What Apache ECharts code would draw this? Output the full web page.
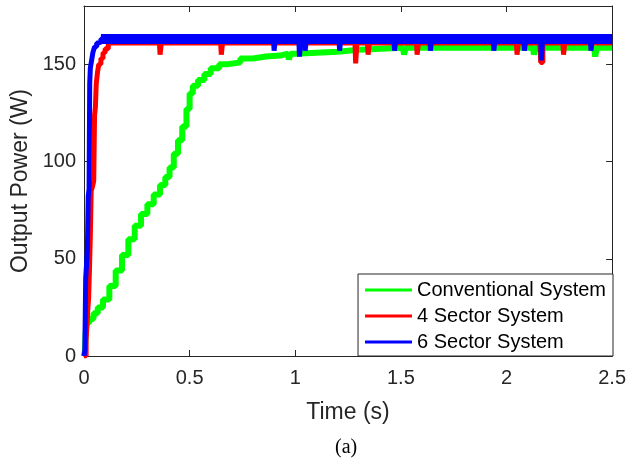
<!DOCTYPE html>
<html>
<head>
<meta charset="utf-8">
<script src="https://cdn.jsdelivr.net/npm/echarts@6/dist/echarts.min.js"></script>
<style>
  html, body { margin: 0; padding: 0; background: #fff; }
  #chart { width: 629px; height: 466px; }
</style>
</head>
<body>
<div id="chart"></div>
<script>
// values: time in s, power in W
const conventionalTime = [0, 0.004, 0.008, 0.012, 0.025, 0.045, 0.065, 0.09, 0.12, 0.15, 0.18, 0.21, 0.24, 0.27, 0.30, 0.33, 0.36, 0.385, 0.405, 0.425, 0.445, 0.465, 0.485, 0.50, 0.515, 0.54, 0.57, 0.60, 0.64, 0.68, 0.74, 0.80, 0.86, 0.93, 0.965, 0.97, 0.978, 1.0, 1.1, 1.2, 1.3, 1.51, 1.515, 1.523, 1.7, 1.9, 2.125, 2.13, 2.138, 2.3, 2.415, 2.42, 2.428, 2.5];
const conventionalPower = [0, 2, 12, 17, 19, 22, 25, 29, 36, 44, 52, 60, 67, 73, 78, 83, 88, 92, 97, 104, 111, 118, 127, 135, 139, 142, 145, 148, 150, 151, 153, 154, 154.5, 155.5, 155.5, 152.5, 155.5, 156, 156.5, 157.5, 158.5, 158.5, 155, 158.5, 158.5, 158.5, 158.5, 155, 158.5, 158.5, 158.5, 154, 158.5, 158.5];

const fourSectorTime = [0, 0.01, 0.018, 0.022, 0.026, 0.03, 0.034, 0.04, 0.046, 0.05, 0.054, 0.058, 0.064, 0.07, 0.08, 0.09, 0.1, 0.115,
  0.357, 0.36, 0.366, 0.647, 0.65, 0.656, 1.283, 1.286, 1.292, 1.342, 1.345, 1.351, 1.574, 1.577, 1.583,
  2.047, 2.05, 2.056, 2.158, 2.162, 2.172, 2.267, 2.27, 2.276, 2.5];
const fourSectorPower = [0, 8, 24, 30, 45, 62, 85, 87, 90, 124, 128, 140, 146, 150, 153, 156, 158, 161,
  161, 155, 161, 161, 155, 161, 161, 150.5, 161, 161, 155, 161, 161, 155, 161,
  161, 155, 161, 161, 151, 161, 161, 155, 161, 161];

const sixSectorTime = [0, 0.004, 0.008, 0.012, 0.016, 0.02, 0.024, 0.027, 0.03, 0.036, 0.042, 0.05, 0.06, 0.07, 0.08,
  0.897, 0.9, 0.906, 1.017, 1.02, 1.026, 1.044, 1.047, 1.053, 1.207, 1.21, 1.216, 1.467, 1.47, 1.476,
  1.637, 1.64, 1.646, 1.937, 1.94, 1.946, 2.082, 2.085, 2.091, 2.162, 2.165, 2.171, 2.397, 2.4, 2.406, 2.5];
const sixSectorPower = [0, 3, 40, 47, 55, 82, 86, 140, 148, 152, 156, 159, 161, 161.5, 163,
  163, 157, 163, 163, 154, 163, 163, 157, 163, 163, 157, 163, 163, 157, 163,
  163, 157, 163, 163, 157, 163, 163, 157, 163, 163, 152, 163, 163, 157, 163, 163];

// the steady-state ripple of the 6 sector trace shows as a wider band
const sixSectorBandTime = [0.08, 2.5];
const sixSectorBandPower = [163, 163];

const seriesNames = ["Conventional System", "4 Sector System", "6 Sector System"];
const seriesColors = ["#00ff00", "#ff0000", "#0000ff"];
const seriesWidths = [6, 5, 5];

const FONT = "Liberation Sans";
const AXIS = "#262626";

const pairs = (t, p) => t.map((x, i) => [x, p[i]]);
const seriesData = [
  pairs(conventionalTime, conventionalPower),
  pairs(fourSectorTime, fourSectorPower),
  pairs(sixSectorTime, sixSectorPower),
];

const chart = echarts.init(document.getElementById("chart"), null, { renderer: "canvas" });

const baseAxis = {
  axisLine: { show: true, onZero: false, lineStyle: { color: AXIS, width: 1 } },
  axisTick: { show: true, inside: true, length: 6, lineStyle: { color: AXIS } },
  splitLine: { show: false },
};

const series = seriesNames.map((name, i) => ({
  name: name,
  type: "line",
  step: "end",
  data: seriesData[i],
  showSymbol: false,
  symbol: "none",
  lineStyle: { color: seriesColors[i], width: seriesWidths[i], cap: "butt", join: "bevel" },
  itemStyle: { color: seriesColors[i] },
  z: 2 + i,
}));
series.push({
  name: seriesNames[2],
  type: "line",
  data: pairs(sixSectorBandTime, sixSectorBandPower),
  showSymbol: false,
  symbol: "none",
  lineStyle: { color: seriesColors[2], width: 10, cap: "butt" },
  itemStyle: { color: seriesColors[2] },
  z: 5,
});

chart.setOption({
  animation: false,
  backgroundColor: "#fff",
  textStyle: { fontFamily: FONT },
  grid: { left: 84, right: 16, top: 6, bottom: 110, containLabel: false },
  legend: {
    data: seriesNames,
    orient: "vertical",
    right: 16,
    bottom: 110,
    backgroundColor: "#fff",
    borderColor: AXIS,
    borderWidth: 1,
    borderRadius: 0,
    padding: [6, 7, 4, 7],
    itemGap: 6,
    itemWidth: 47,
    itemHeight: 3,
    itemTextGap: 5,
    icon: "rect",
    align: "left",
    textStyle: { fontFamily: FONT, fontSize: 20, color: "#000" },
  },
  xAxis: [
    Object.assign({}, baseAxis, {
      type: "value", min: 0, max: 2.5, interval: 0.5, position: "bottom",
      name: "Time (s)", nameLocation: "middle", nameGap: 45,
      nameTextStyle: { fontFamily: FONT, fontSize: 23, color: AXIS },
      axisLabel: { margin: 12, fontSize: 20, color: AXIS, fontFamily: FONT },
    }),
    Object.assign({}, baseAxis, {
      type: "value", min: 0, max: 2.5, interval: 0.5, position: "top",
      axisLabel: { show: false },
    }),
  ],
  yAxis: [
    Object.assign({}, baseAxis, {
      type: "value", min: 0, max: 180, interval: 50, position: "left",
      name: "Output Power (W)", nameLocation: "middle", nameGap: 51,
      nameTextStyle: { fontFamily: FONT, fontSize: 23, color: AXIS },
      axisLabel: { margin: 8, fontSize: 20, color: AXIS, fontFamily: FONT, showMaxLabel: false },
    }),
    Object.assign({}, baseAxis, {
      type: "value", min: 0, max: 180, interval: 50, position: "right",
      axisLabel: { show: false },
    }),
  ],
  graphic: [{
    type: "text",
    left: 335,
    top: 438,
    style: { text: "(a)", fontFamily: "Liberation Serif", fontSize: 20, fill: "#000" },
  }],
  series: series,
});
</script>
</body>
</html>
